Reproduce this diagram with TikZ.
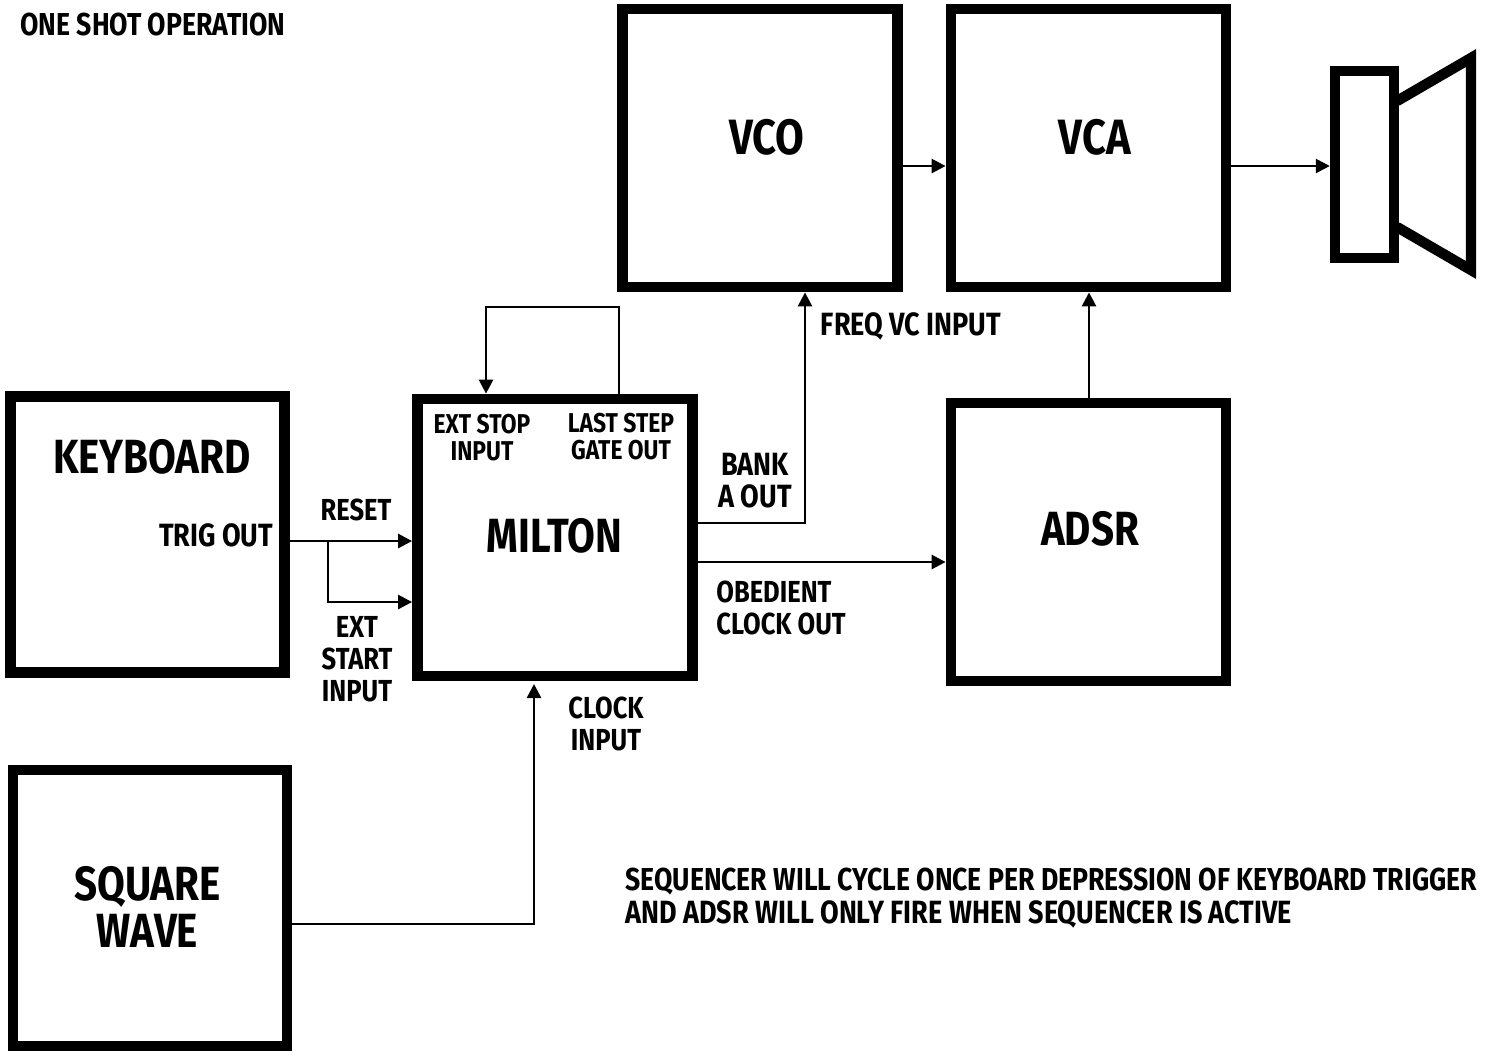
\documentclass[tikz,border=0pt]{standalone}
\usepackage{fontspec}
\setmainfont{Fira Sans}[BoldFont=* Bold,FakeStretch=0.84]
\usetikzlibrary{arrows.meta,calc}
\tikzset{
  x=0.5pt,y=-0.5pt,
  block/.style={draw=black,line width=5.4pt,rectangle,inner sep=0pt,fill=none},
  wire/.style={draw=black,line width=1.3pt,-{Triangle[length=7pt,width=7pt]}},
  big/.style={inner sep=0pt,align=center,font=\fontsize{24}{23.5}\selectfont\bfseries},
  bigw/.style={inner sep=0pt,align=center,font=\fontsize{24.8}{23.5}\selectfont\bfseries},
  lab/.style={inner sep=0pt,align=center,font=\fontsize{15.2}{16}\selectfont\bfseries},
  labw/.style={inner sep=0pt,align=center,font=\fontsize{16.1}{16}\selectfont\bfseries},
  small/.style={inner sep=0pt,align=center,font=\fontsize{13.6}{13.5}\selectfont\bfseries},
  note/.style={inner sep=0pt,align=left,font=\fontsize{15.85}{16.5}\selectfont\bfseries},
}
\begin{document}
\begin{tikzpicture}
\useasboundingbox (0,0) rectangle (1491,1051);
\node[block,minimum width=137pt,minimum height=138pt] (keyboard) at (147.5,534.5) {};
\node[block,minimum width=137pt,minimum height=138pt] (square) at (150,908) {};
\node[block,minimum width=137.5pt,minimum height=138.5pt] (milton) at (555,537.5) {};
\node[block,minimum width=137.5pt,minimum height=139pt] (vco) at (760,148) {};
\node[block,minimum width=137.5pt,minimum height=139pt] (vca) at (1088.5,148) {};
\node[block,minimum width=137.5pt,minimum height=139pt] (adsr) at (1088.5,542) {};
% speaker
\node[draw=black,line width=5.2pt,rectangle,inner sep=0pt,minimum width=29.5pt,minimum height=93.5pt] (driver) at (1364.5,164.5) {};
\coordinate (coneA) at (1397,101);
\coordinate (coneB) at (1471,58);
\coordinate (coneC) at (1471,270);
\coordinate (coneD) at (1397,227);
\draw[line width=5.2pt,miter limit=10,line join=miter] (coneA) -- (coneB) -- (coneC) -- (coneD);
% labels
\node[note,anchor=west] (title) at (20,25) {ONE SHOT OPERATION};
\node[bigw] (tvco) at (767,137) {VCO};
\node[bigw] (tvca) at (1095,137) {VCA};
\node[big] (tadsr) at (1090,529) {ADSR};
\node[big] (tkey) at (152,457) {KEYBOARD};
\node[big] (tmil) at (554.5,536) {MILTON};
\node[big] (tsq) at (147.5,907) {SQUARE\\WAVE};
\node[labw] (ttrig) at (216,535) {TRIG OUT};
\node[lab] (treset) at (356,510) {RESET};
\node[lab] (tstart) at (357,659) {EXT\\START\\INPUT};
\node[small] (tstop) at (482,438) {EXT STOP\\INPUT};
\node[small] (tlast) at (621,437) {LAST STEP\\GATE OUT};
\node[labw] (tbank) at (755,481) {BANK\\A OUT};
\node[labw] (tfreq) at (911,326) {FREQ VC INPUT};
\node[lab,align=left,anchor=west] (tobed) at (716,608) {OBEDIENT\\CLOCK OUT};
\node[lab] (tclock) at (606,724) {CLOCK\\INPUT};
\node[note,anchor=north west] (tnote) at (625,868) {SEQUENCER WILL CYCLE ONCE PER DEPRESSION OF KEYBOARD TRIGGER\\{\fontsize{16.09}{16.5}\selectfont AND ADSR WILL ONLY FIRE WHEN SEQUENCER IS ACTIVE}};
% connectors
\coordinate (branch) at (328,541);
\coordinate (clocktip) at (534,684);
\coordinate (loopR) at (619,307);
\coordinate (loopL) at (486,307);
\draw[wire] (keyboard.east |- branch) -- (milton.west |- branch);
\draw[wire] (branch) |- (milton.west |- 0,602);
\draw[wire] (square.east |- 0,924) -| (clocktip);
\draw[wire] (loopR |- milton.north) -- (loopR) -- (loopL) -- (loopL |- milton.north);
\draw[wire] (milton.east |- 0,523) -| (vco.south -| 805,0);
\draw[wire] (milton.east |- 0,562) -- (adsr.west |- 0,562);
\draw[wire] (vco.east |- 0,166) -- (vca.west |- 0,166);
\draw[wire] (vca.east |- 0,166) -- (driver.west |- 0,166);
\draw[wire] (1089,0 |- adsr.north) -- (1089,0 |- vca.south);
\end{tikzpicture}
\end{document}
